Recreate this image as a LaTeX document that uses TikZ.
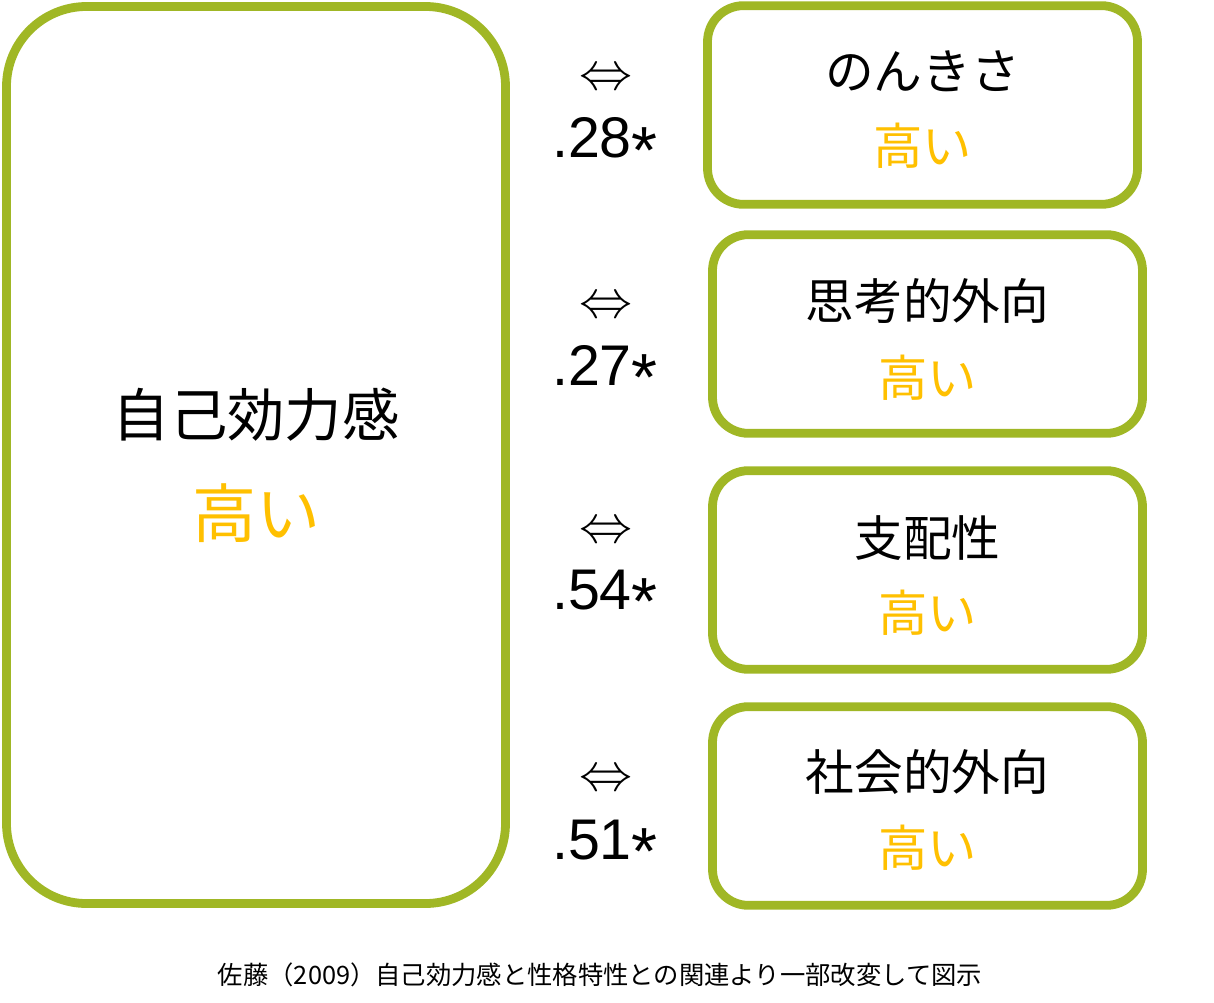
\documentclass[tikz,border=0pt]{standalone}
\usepackage{fontspec}
\usepackage{amsmath,amssymb}
\setmainfont{Noto Sans CJK JP}
\newfontfamily\numfont{Liberation Sans}
\definecolor{boxgreen}{RGB}{160,183,37}
\definecolor{highgold}{RGB}{255,192,0}
\newcommand{\starmark}{\smash{\raisebox{-0.27em}{\fontsize{50}{50}\selectfont *}}}

\begin{document}
\begin{tikzpicture}[x=0.75pt,y=-0.75pt,
    framebox/.style={draw=boxgreen,line width=6.6pt,fill=white,inner sep=0pt},
    traitbox/.style={framebox,rounded corners=27pt,minimum width=322.5pt,minimum height=149pt},
    traitname/.style={font=\fontsize{36.5}{40}\selectfont},
    highlabel/.style={text=highgold,font=\fontsize{37}{40}\selectfont},
    arrowlabel/.style={font=\fontsize{30}{32}\selectfont},
    corrlabel/.style={font=\numfont\fontsize{43}{46}\selectfont}]
    \useasboundingbox (0,0) rectangle (1214,1003);
    % Self-efficacy box
    \node[framebox,rounded corners=60pt,minimum width=374.25pt,minimum height=672.75pt] (efficacy) at (256,455) {};
    \node[font=\fontsize{43}{46}\selectfont] (efficacyname) at (256,415) {自己効力感};
    \node[text=highgold,font=\fontsize{48}{52}\selectfont] (efficacyhigh) at (256,513) {高い};
    % Trait boxes
    \node[traitbox] (nonki) at (922.5,105) {};
    \node[traitbox] (shiko) at (927.5,334) {};
    \node[traitbox] (shihai) at (927.5,570) {};
    \node[traitbox] (shakai) at (927.5,806) {};
    \node[traitname] (nonkiname) at (922.5,71) {のんきさ};
    \node[highlabel] (nonkihigh) at (922.5,146) {高い};
    \node[traitname] (shikoname) at (927.5,301) {思考的外向};
    \node[highlabel] (shikohigh) at (927.5,378) {高い};
    \node[traitname] (shihainame) at (927.5,538) {支配性};
    \node[highlabel] (shihaihigh) at (927.5,613) {高い};
    \node[traitname] (shakainame) at (927.5,772) {社会的外向};
    \node[highlabel] (shakaihigh) at (927.5,848) {高い};
    % Correlations
    \node[arrowlabel] (arrowa) at (606,80) {\scalebox{1.6}{$\Leftrightarrow$}};
    \node[corrlabel] (corra) at (605,138) {.28\starmark};
    \node[arrowlabel] (arrowb) at (606,308) {\scalebox{1.6}{$\Leftrightarrow$}};
    \node[corrlabel] (corrb) at (605,365) {.27\starmark};
    \node[arrowlabel] (arrowc) at (606,533) {\scalebox{1.6}{$\Leftrightarrow$}};
    \node[corrlabel] (corrc) at (605,590) {.54\starmark};
    \node[arrowlabel] (arrowd) at (606,781) {\scalebox{1.6}{$\Leftrightarrow$}};
    \node[corrlabel] (corrd) at (605,840) {.51\starmark};
    % Source
    \node[font=\fontsize{19}{21}\selectfont] (source) at (600,975) {佐藤（2009）自己効力感と性格特性との関連より一部改変して図示};
\end{tikzpicture}
\end{document}
